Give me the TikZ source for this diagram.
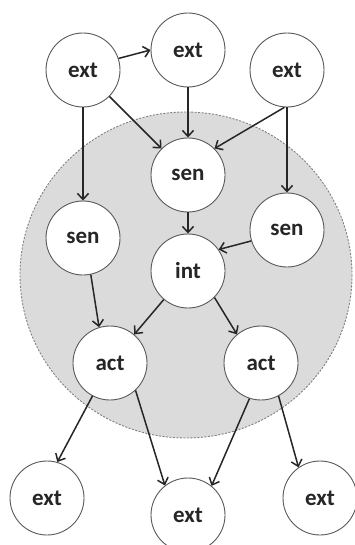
\documentclass[tikz,border=0pt]{standalone}
\usepackage{fontspec}
\setmainfont{Carlito}
\usetikzlibrary{arrows.meta}

\begin{document}
\begin{tikzpicture}[x=1pt, y=-1pt,
        unit/.style={circle, draw=black!65, line width=0.9pt, fill=white, minimum size=74pt, inner sep=0pt, text=black!85, font=\bfseries\fontsize{23}{27}\selectfont},
        link/.style={line width=1.5pt, black!85, -{Straight Barb[length=6pt,width=11pt,line width=1.5pt]}}]
            \useasboundingbox (0, 0) rectangle (354, 545);
            \fill[white] (0, 0) rectangle (354, 545);
            % agent boundary
            \draw[black!50, dashed, dash pattern=on 2pt off 1.5pt, line width=0.9pt, fill=black!14] (186, 275) ellipse [x radius=166, y radius=163];
            % units
            \node[unit] (extA) at (83, 70) {ext};
            \node[unit] (extB) at (188, 50) {ext};
            \node[unit] (extC) at (287, 70) {ext};
            \node[unit] (senM) at (188, 175) {sen};
            \node[unit] (senL) at (83, 238) {sen};
            \node[unit] (senR) at (287, 230) {sen};
            \node[unit] (int) at (188, 271) {int};
            \node[unit] (actL) at (110, 363) {act};
            \node[unit] (actR) at (261, 363) {act};
            \node[unit] (extD) at (47, 498) {ext};
            \node[unit] (extE) at (188, 515) {ext};
            \node[unit] (extF) at (320, 498) {ext};
            % connections
            \draw[link] (extA.18) -- (extB.180);
            \draw[link] (extA) -- (senM);
            \draw[link] (extA) -- (senL);
            \draw[link] (extB) -- (senM);
            \draw[link] (extC.266) -- (senM.45);
            \draw[link] (extC) -- (senR);
            \draw[link] (senM) -- (int);
            \draw[link] (senR.197) -- (int.35);
            \draw[link] (senL.-78) -- (actL.107);
            \draw[link] (int) -- (actL);
            \draw[link] (int.-45) -- (actR.130);
            \draw[link] (actL.242) -- (extD.74);
            \draw[link] (actL.-47) -- (extE.128);
            \draw[link] (actR.252) -- (extE.51);
            \draw[link] (actR.-62) -- (extF.125);
        \end{tikzpicture}
\end{document}
